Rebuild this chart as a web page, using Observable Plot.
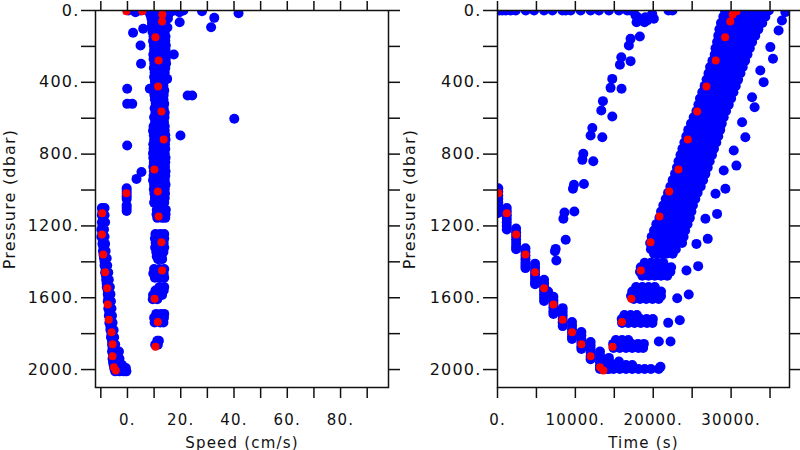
<!DOCTYPE html>
<html><head><meta charset="utf-8">
<script src="https://cdn.jsdelivr.net/npm/d3@7"></script>
<script src="https://cdn.jsdelivr.net/npm/@observablehq/plot@0.6"></script>
<style>
body{margin:0;background:#fff;}
#wrap{display:flex;width:800px;height:450px;overflow:hidden;}
svg text{font-family:"DejaVu Sans";}
</style></head><body><div id="wrap"></div>
<script>
// ---- axis ticks / labels ----
const pressureTicks = [0,200,400,600,800,1000,1200,1400,1600,1800,2000];
const pressureLabels = [0,400,800,1200,1600,2000];
const speedTicks = [-10,0,10,20,30,40,50,60,70,80,90];
const speedLabels = [0,20,40,60,80];
const timeTicks = [0,5000,10000,15000,20000,25000,30000,35000];
const timeLabels = [0,10000,20000,30000];

// ---- highlighted (red) samples ----
const redTime = [128,1190,2390,3590,4820,5980,7180,8370,9570,10770,11960,13160,13590,14780,15980,17180,18410,19650,20800,22050,23240,24440,25640,26830,28030,29230,29900,30200,30400,30700];
const redPressure = [1018,1129,1248,1359,1458,1547,1638,1722,1792,1859,1926,1987,2006,1873,1735,1605,1448,1291,1148,1008,886,719,563,423,279,149,61,22,4,4];
const redSpeed = [-0.4,-9.5,-9.6,-9.1,-8.4,-7.6,-7.4,-7.0,-6.0,-5.6,-5.6,-5.1,-4.4,10.5,11.4,10.2,13.0,12.75,11.7,11.4,10.1,13.6,12.75,11.5,11.7,10.5,13.0,13.1,-0.4,5.6];

// ---- left panel: speed rows [pressure, speeds...] ----
const speedAscentRows = [
  [0,0.3,2.5,5,7.5,10,12.5,15,17.5,20,21],
  [10,3,8.5,11,13.5,16,19.5],
  [20,8.5,10.8,13.1,15.4],[45,9.0,11.3,13.6,15.2],[70,9.2,11.5,13.8],[95,9.0,11.2,13.5,15.0],
  [120,9.4,11.7,14.0],[145,9.8,12.0,14.3],[170,9.6,11.9,14.2],[195,9.9,12.1,14.4],
  [220,10.0,12.2,14.3],[245,9.7,12.0,14.2],[270,9.8,12.0,14.4],[295,10.1,12.3,14.5],
  [320,9.9,12.1,14.2],[345,10.2,12.3,14.0],[370,10.0,12.1,14.1],[395,10.3,12.2,13.6],
  [420,10.2,12.0,13.5],[445,10.4,12.2,13.8],[470,10.1,12.0,13.6],[495,10.3,12.1,13.5],
  [520,10.6,12.4,13.8],[545,10.2,12.0,13.6],[570,10.5,12.3,14.0],[595,10.0,12.0,13.9],
  [620,10.4,12.2,13.7],[645,9.8,11.9,14.0],[670,9.6,11.8,14.0],[695,9.9,12.0,14.2],
  [720,10.0,12.2,14.3],[745,9.7,11.9,14.1],[770,9.8,12.0,14.2],[795,9.6,11.8,14.0],
  [820,9.7,12.0,14.3],[845,9.9,12.1,14.2],[870,9.7,11.9,14.1],[895,9.9,12.1,14.3],
  [920,9.8,12.0,14.2],[945,9.6,11.9,14.0],[970,10.0,12.2,14.3],[995,9.9,12.1,14.0],
  [1020,10.1,12.3,14.1],[1045,10.3,12.3,14.0],[1070,10.0,12.1,13.8],
  [1110,11.0,12.8,14.4],[1135,10.9,12.7,14.3],[1155,11.2,13.0,14.2],
  [1245,10.5,12.3,13.8],[1270,10.3,12.1,13.8],[1295,10.6,12.4,13.6],[1320,10.4,12.2,13.8],
  [1345,10.8,12.5,13.5],[1370,11.0,12.8],[1386,11.5,13.0],
  [1440,10.0,12.0,13.8],[1465,9.7,11.8,13.6],[1488,10.3,12.3,13.8],
  [1540,12.0,13.8],[1560,10.5,12.3,13.6],[1585,9.6,11.5,13.0],[1608,9.5,11.2],
  [1690,10.8,12.6,13.8],[1712,10.0,12.0,13.7],[1738,10.2,12.3,13.5],
  [1840,11.2,11.8],[1862,10.4,11.4]
];
const speedDescentRows = [
  [1100,-9.6,-8.6],[1120,-9.4],[1140,-9.6,-8.6],[1160,-9.2],[1180,-9.6,-8.4],[1200,-9.4],
  [1220,-9.8,-8.8],[1240,-9.4],[1260,-9.8,-8.6],[1280,-9.2],[1300,-9.4,-8.4],[1320,-9.0],
  [1340,-9.2,-8.2],[1360,-9.0],[1380,-8.8,-7.8],[1400,-8.6],[1420,-8.6,-7.6],[1440,-8.2],
  [1460,-8.4,-7.2],[1480,-8.0],[1500,-8.0,-7.0],[1520,-7.8],[1540,-7.8,-6.6],[1560,-7.4],
  [1580,-7.4,-6.4],[1600,-7.2],[1620,-7.4,-6.2],[1640,-7.0],[1660,-7.2,-6.0],[1680,-6.8],
  [1700,-7.0,-5.8],[1720,-6.6],[1740,-6.8,-5.6],[1760,-6.4],[1780,-6.4,-5.2],[1800,-6.0],
  [1820,-6.2,-5.0],[1840,-5.8],[1860,-5.8,-4.6],[1880,-5.6],[1900,-5.8,-4.4,-3.2],
  [1920,-5.4],[1940,-5.6,-4.2,-3.0],[1960,-5.4,-3.8],[1975,-5.2,-3.6,-2.0],
  [1992,-5.0,-3.4,-1.8,-0.6],[2010,-4.6,-3.0,-1.4,-0.4]
];
// isolated samples [speed, pressure]
const speedOutliers = [
  [28.0,4],[32.6,41],[31.4,93],[41.7,15],[19.6,65],[2.1,124],[5.9,102],[4.9,195],[5.1,297],
  [17.4,245],[14.9,381],[-0.1,436],[-0.1,520],[1.8,520],[22.6,473],[24.3,473],[40.1,603],
  [8.4,436],[19.9,696],[-0.1,752],[5.25,900],[3.4,938],
  [-0.3,990],[-0.3,1005],[-0.3,1020],[-0.3,1035],[-0.3,1050],[-0.3,1085],[-0.3,1100],[-0.3,1117]
];

// ---- right panel ----
const surfaceTimes = [205,600,1064,1705,2346,3628,4696,5974,7051,8334,8761,9401,10680,11960,13030,14310,15590,16660,17090,21960,22470];
// descent columns [time, pressures...]
const descentColumns = [
  [100,990,1010,1030,1050,1070,1090,1110,1128],
  [1190,1100,1120,1140,1160,1180,1200,1220],
  [2390,1215,1235,1255,1275,1295,1315,1330],
  [3590,1325,1345,1365,1385,1405,1420,1435],
  [4820,1410,1430,1450,1470,1490,1510,1525],
  [5980,1500,1520,1540,1560,1580,1600,1618],
  [6500,1565],
  [7180,1595,1615,1635,1655,1675,1690],
  [8370,1658,1678,1698,1718,1738,1758],
  [9570,1735,1755,1775,1795,1815,1830],
  [10770,1791,1811,1831,1851,1871,1886],
  [11960,1847,1867,1887,1907,1927,1942],
  [13160,1900,1920,1940,1960,1980,1997],
  [14310,1935,1955,1975,1997]
];
// ascent rows [pressure, times...]
const ascentRows = [
  [0,29200,30000,30800,31600,32400,33200,34000,34850],
  [35,29000,29800,30600,31400,32200,33000,33700,34400],
  [70,28700,29500,30300,31100,31900,32700,33400,34000],
  [105,28500,29300,30100,30900,31700,32500,33500],
  [140,28350,29150,29950,30750,31550,32350,33100],
  [175,28200,29000,29800,30600,31400,32100,32700],
  [210,28000,28800,29600,30400,31200,31900,32400],
  [245,27900,28700,29500,30300,31100,31700,32100],
  [280,27600,28400,29200,30000,30800,31400,31800],
  [315,27300,28100,28900,29700,30500,31100,31500],
  [350,27100,27900,28700,29500,30300,30800,31200],
  [385,26850,27650,28450,29250,30050,30500,30900],
  [420,26600,27400,28200,29000,29800,30600],
  [455,26300,27100,27900,28700,29500,30300],
  [490,26000,26800,27600,28400,29200,30000],
  [525,25800,26600,27400,28200,29000,29700],
  [560,25550,26350,27150,27950,28750,29350],
  [595,25200,26000,26800,27600,28400,29050],
  [630,24850,25650,26450,27250,28050,28800],
  [665,24500,25300,26100,26900,27700,28600],
  [700,24250,25050,25850,26650,27450,28350],
  [735,24000,24800,25600,26400,27200,28100],
  [770,23750,24550,25350,26150,26950,27800],
  [805,23500,24300,25100,25900,26700,27550],
  [840,23250,24050,24850,25650,26450,27250],
  [875,23050,23850,24650,25450,26250,27000],
  [910,22800,23600,24400,25200,26000,26700],
  [945,22500,23300,24100,24900,25700,26400],
  [980,22200,23000,23800,24600,25400,26100],
  [1015,21900,22700,23500,24300,25100,25700],
  [1050,21600,22400,23200,24000,24800,25400],
  [1085,21300,22100,22900,23700,24500,25100],
  [1120,21000,21800,22600,23400,24200,24900],
  [1155,20800,21600,22400,23200,24000,24700],
  [1190,20400,21200,22000,22800,23600,24400],
  [1225,20100,20900,21700,22500,23300,24100],
  [1260,19800,20600,21400,22200,23000,23900],
  [1295,19600,20400,21200,22000,22800,23700],
  [1330,19700,20500,21300,22100,22900],
  [1355,20100,20900,21700,22500],
  [1405,18900,19700,20500,21300],
  [1430,18400,19200,20000,20800,21600,22300],
  [1455,18300,19100,19900,20700,21500,22200],
  [1478,18600,19400,20200,21000,21800],
  [1540,17800,18600,19400,20200],
  [1565,17300,18100,18900,19700,20500,21000],
  [1590,17150,17950,18750,19550,20350,21000],
  [1607,17500,18300,19100,19900,20700],
  [1696,16300,17100,17900],
  [1718,15950,16750,17550,18350,19150,19950],
  [1741,16000,16800,17600,18400,19200,19900],
  [1835,15200,16000,16800],
  [1857,14850,15650,16450,17250,18050,18800],
  [1880,14900,15700,16500,17300,18100,18700],
  [1955,14310,15590],
  [1975,14100,14900,15700,16500,17300],
  [1997,14100,14900,15700,16500,17300,18100,18900,19700,20700]
];
// second, sparse profile [time, pressure]
const sparseProfile = [
  [17730,28],[18150,56],[19230,56],[19870,19],[20080,46],
  [17860,65],[17950,37],[18880,65],[19010,37],
  [17090,158],[16870,195],[18280,145],
  [15900,260],[15720,302],[17090,282],
  [14740,381],[14520,431],[15930,436],
  [13540,505],[13330,557],[14740,590],
  [12180,655],[11960,696],[13460,706],
  [11020,798],[10900,832],[12300,840],
  [9820,971],[9690,993],[11100,966],
  [8600,1125],[8460,1160],[9870,1120],
  [7470,1328],[7380,1341],[8760,1277],[7560,1393]
];
// isolated late samples [time, pressure]
const timeOutliers = [
  [36960,9],[36530,56],[36100,111],[35040,204],[35380,269],[33750,334],[34180,399],
  [32690,483],[33020,539],[31410,622],[31830,706],[30340,780],[30680,864],[29050,891],
  [29270,993],[28000,1021],[28200,1133],[26700,1160],[25550,1300],[27000,1272],
  [24270,1448],[25770,1424],[23080,1603],[24560,1582],[21920,1740],[23410,1725],
  [20720,1844],[22220,1844],[20930,1985]
];

// ---- build tables ----
const leftBlue = [];
for (const [p, ...s] of speedAscentRows) for (const v of s) leftBlue.push({speed: v, pressure: p});
for (const [p, ...s] of speedDescentRows) for (const v of s) leftBlue.push({speed: v, pressure: p});
for (const [s, p] of speedOutliers) leftBlue.push({speed: s, pressure: p});

const rightBlue = [];
for (const t of surfaceTimes) rightBlue.push({time: t, pressure: 0});
for (const [t, ...ps] of descentColumns) for (const p of ps) rightBlue.push({time: t, pressure: p});
for (const [p, ...ts] of ascentRows) for (const t of ts) rightBlue.push({time: t, pressure: p});
for (const [t, p] of sparseProfile) rightBlue.push({time: t, pressure: p});
for (const [t, p] of timeOutliers) rightBlue.push({time: t, pressure: p});

const red = redTime.map((t, i) => ({time: t, pressure: redPressure[i], speed: redSpeed[i]}));

function panel({xKey, xDomain, xTicks, xLabels, xLabel, marginLeft, marginRight, blue}) {
  return Plot.plot({
    width: 400, height: 450,
    marginLeft, marginRight, marginTop: 10, marginBottom: 63,
    style: {fontFamily: "DejaVu Sans", fontSize: "16px", letterSpacing: "1.2px", background: "white", color: "#111"},
    x: {domain: xDomain},
    y: {domain: [0, 2100], reverse: true},
    marks: [
      Plot.dot(blue, {x: xKey, y: "pressure", r: 5, fill: "#0000ff", clip: true}),
      Plot.dot(red, {x: xKey, y: "pressure", r: 4, fill: "#ff0000", clip: true}),
      Plot.frame({stroke: "#111", strokeWidth: 1.5}),
      Plot.axisY(pressureTicks, {anchor: "left", tickSize: 14, tickPadding: 2, strokeWidth: 1.5,
        tickFormat: d => pressureLabels.includes(d) ? d + "." : "",
        label: "Pressure (dbar)", labelAnchor: "center", labelArrow: "none"}),
      Plot.axisY(pressureTicks, {anchor: "right", tickSize: 12, strokeWidth: 1.5, tickFormat: () => "", label: null}),
      Plot.axisX(xTicks, {anchor: "bottom", tickSize: 11, tickPadding: 16, strokeWidth: 1.5, fontSize: 15,
        tickFormat: d => xLabels.includes(d) ? d + "." : "",
        label: xLabel, labelAnchor: "center", labelArrow: "none"}),
      Plot.axisX(xTicks, {anchor: "top", tickSize: 10, strokeWidth: 1.5, tickFormat: () => "", label: null})
    ]
  });
}

const wrap = document.getElementById("wrap");
wrap.append(panel({xKey: "speed", xDomain: [-12, 98], xTicks: speedTicks, xLabels: speedLabels,
  xLabel: "Speed (cm/s)", marginLeft: 95, marginRight: 12, blue: leftBlue}));
wrap.append(panel({xKey: "time", xDomain: [0, 37500], xTicks: timeTicks, xLabels: timeLabels,
  xLabel: "Time (s)", marginLeft: 97, marginRight: 11, blue: rightBlue}));
</script></body></html>
